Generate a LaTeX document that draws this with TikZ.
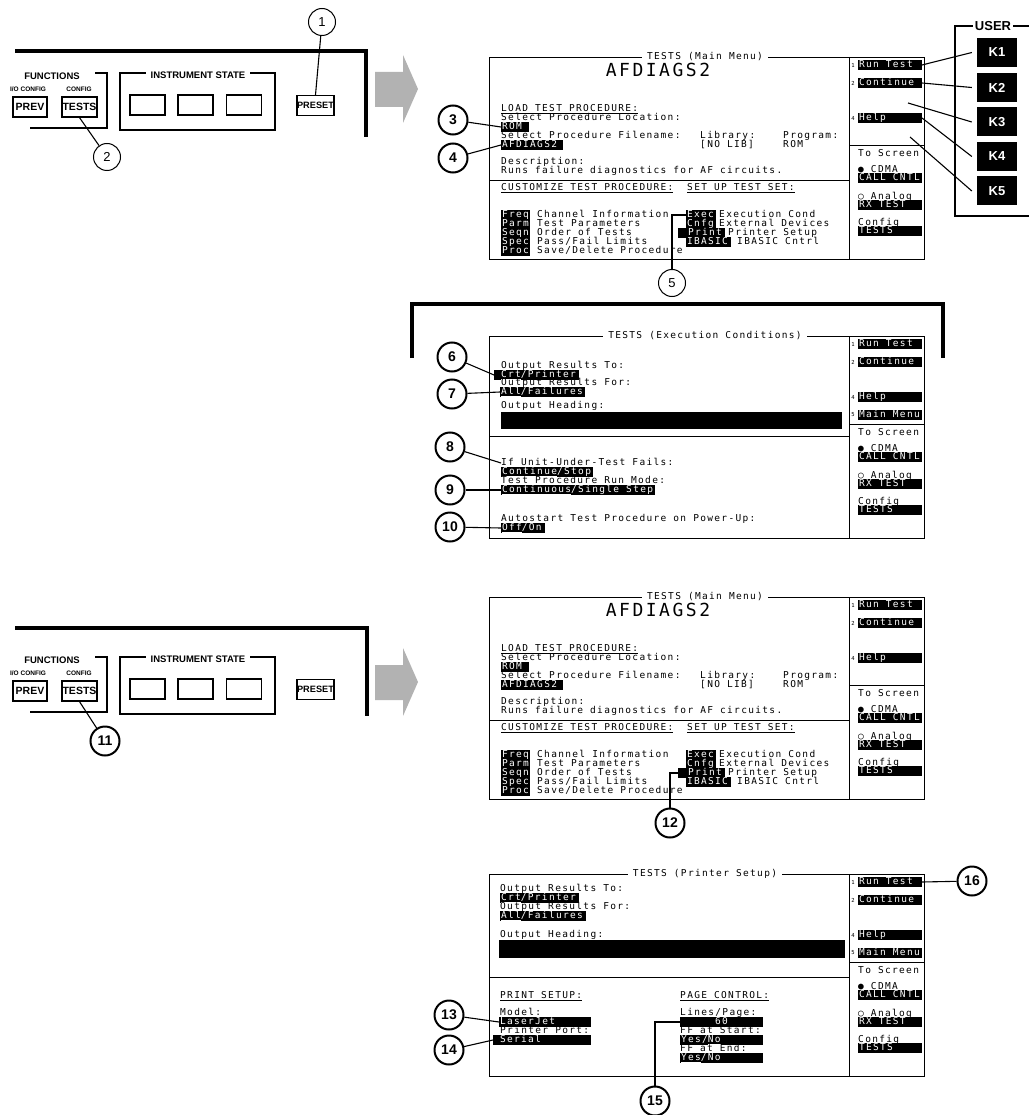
\documentclass[tikz,border=0pt]{standalone}
\usepackage{fontspec}
\setmainfont{Liberation Sans}
\newfontfamily\scrfont[LetterSpace=14]{DejaVu Sans Mono}

\newcommand\fcell[2]{\makebox[#1][l]{#2}}

\tikzset{
  scr/.style={font=\scrfont\fontsize{9.5}{10}\selectfont, inner sep=0pt,
    text height=7.2pt, text depth=1.6pt, anchor=west},
  inv/.style={scr, fill=black, text=white, inner xsep=0.8pt, inner ysep=0.3pt},
  big/.style={font=\scrfont\fontsize{18}{18}\selectfont, inner sep=0pt},
  keyno/.style={font=\scrfont\fontsize{5.5}{5.5}\selectfont, inner sep=0pt},
  bar/.style={fill=black, inner sep=0pt, anchor=north west},
  frame/.style={line width=0.9pt},
  ballbold/.style={circle, draw, line width=2pt, minimum size=29pt, inner sep=0pt,
    font=\bfseries\fontsize{14}{14}\selectfont},
  ballthin/.style={circle, draw, line width=1pt, minimum size=27pt, inner sep=0pt,
    font=\fontsize{13}{13}\selectfont},
  lead/.style={line width=1.1pt},
  pnl/.style={font=\bfseries\fontsize{9.5}{10}\selectfont, inner sep=0pt},
  smalllbl/.style={font=\bfseries\fontsize{6.5}{7}\selectfont, inner sep=0pt},
  btn/.style={draw, line width=1.2pt, inner sep=0pt, minimum height=20pt,
    font=\bfseries\fontsize{10.5}{10}\selectfont},
  kbox/.style={fill=black, text=white, minimum width=40pt, minimum height=29pt,
    inner sep=0pt, font=\bfseries\fontsize{13}{13}\selectfont},
  heavy/.style={line width=3.5pt},
  grayarrow/.style={fill=black!30},
}

% screen outline, title and softkey column
\newcommand\scrframe[2]{%
  \draw[frame] (0,0) rectangle (435,202);
  \draw[frame] (360,0) -- (360,202);
  \draw[frame] (360,88) -- (435,88);
  \node[scr, anchor=center, fill=white, inner xsep=5pt] (#1-title) at (216,0) {#2};
  \node[keyno] at (364,8) {1};
  \node[inv] (#1-run) at (369,8) {\fcell{62pt}{Run Test}};
  \node[keyno] at (364,26) {2};
  \node[inv] (#1-cont) at (369,26) {\fcell{62pt}{Continue}};
  \node[keyno] at (364,61) {4};
  \node[inv] (#1-help) at (369,61) {\fcell{62pt}{Help}};
  \node[scr] at (369,97) {To Screen};
  \node[scr] at (369,113) {● CDMA};
  \node[inv] at (369,121) {\fcell{62pt}{CALL CNTL}};
  \node[scr] at (369,140) {○ Analog};
  \node[inv] at (369,148) {\fcell{62pt}{RX TEST}};
  \node[scr] at (369,166) {Config};
  \node[inv] at (369,174) {\fcell{62pt}{TESTS}};
}

% TESTS (Main Menu) contents
\newcommand\mainbody[1]{%
  \draw[frame] (0,123) -- (360,123);
  \node[big] at (169,13) {AFDIAGS2};
  \node[scr] at (12,52) {\underline{LOAD TEST PROCEDURE:}};
  \node[scr] at (12,61) {Select Procedure Location:};
  \node[inv] (#1-rom) at (12,70) {\fcell{26pt}{ROM}};
  \node[scr] at (12,79) {Select Procedure Filename:};
  \node[scr] at (211,79) {Library:};
  \node[scr] at (294,79) {Program:};
  \node[inv] (#1-afd) at (12,88) {\fcell{60pt}{AFDIAGS2}};
  \node[scr] at (211,88) {[NO LIB]};
  \node[scr] at (294,88) {ROM};
  \node[scr] at (12,105) {Description:};
  \node[scr] at (12,114) {Runs failure diagnostics for AF circuits.};
  \node[scr] at (12,131) {\underline{CUSTOMIZE TEST PROCEDURE:}};
  \node[scr] at (198,131) {\underline{SET UP TEST SET:}};
  \foreach \k/\t [count=\i from 0] in {Freq/Channel Information, Parm/Test Parameters,
      Seqn/Order of Tests, Spec/{Pass/Fail Limits}, Proc/{Save/Delete Procedure}} {
    \node[inv] at (12,158+9*\i) {\fcell{27pt}{\k}};
    \node[scr] at (48,158+9*\i) {\t};
  }
  \node[inv] (#1-exec) at (197,158) {\fcell{28pt}{Exec}};
  \node[scr] at (230,158) {Execution Cond};
  \node[inv] at (197,167) {\fcell{28pt}{Cnfg}};
  \node[scr] at (230,167) {External Devices};
  \node[inv] (#1-print) at (189,176) {\fcell{45pt}{\hspace*{9pt}Print}};
  \node[scr] at (239,176) {Printer Setup};
  \node[inv] at (197,185) {\fcell{43pt}{IBASIC}};
  \node[scr] at (248,185) {IBASIC Cntrl};
}

% front panel keys
\newcommand\keypanel[1]{%
  \node[pnl] at (52,76) {FUNCTIONS};
  \draw[line width=1.2pt] (95,73) -- (107,73) -- (107,128) -- (30,128);
  \node[smalllbl] at (28,89) {I/O CONFIG};
  \node[smalllbl] at (79,89) {CONFIG};
  \node[btn, minimum width=34pt] (#1-prev) at (30,107) {PREV};
  \node[btn, minimum width=35pt] (#1-tests) at (79.5,107) {TESTS};
  \draw[line width=1.2pt] (120,73) rectangle (275,130);
  \node[pnl, fill=white, inner xsep=5pt] at (198,75) {INSTRUMENT STATE};
  \foreach \bx in {147.5,195.5,244}
    \node[btn, minimum width=35pt] at (\bx,105) {};
  \node[btn, minimum width=37pt, font=\bfseries\fontsize{9.2}{9}\selectfont] (#1-preset) at (315.5,105.5) {PRESET};
}

\begin{document}
\begin{tikzpicture}[x=1pt,y=-1pt]
\useasboundingbox (0,0) rectangle (1029,1115);

%% first row: PRESET, TESTS -> main menu
\draw[heavy] (15,51) -- (366,51) -- (366,137);
\keypanel{P1}
\node[ballthin] (c1) at (322,22) {1};
\draw[lead] (c1) -- (P1-preset.north);
\node[ballthin] (c2) at (107,157) {2};
\draw[lead] (P1-tests.south) -- (c2);
\fill[grayarrow] (375,72) -- (403,72) -- (403,55) -- (418,89) -- (403,123) -- (403,107) -- (375,107) -- cycle;

\begin{scope}[shift={(489,57)}]
  \scrframe{A}{TESTS (Main Menu)}
  \mainbody{A}
  \coordinate (A-k3) at (419,46);
  \coordinate (A-k5) at (421,80);
\end{scope}
\node[ballbold] (c3) at (453,120) {3};
\draw[lead] (c3) -- (A-rom.west);
\node[ballbold] (c4) at (453,158) {4};
\draw[lead] (c4) -- (A-afd.west);
\node[ballthin] (c5) at (672,283) {5};
\draw[lead] (c5.north) |- (A-exec.west);

% USER keys
\node[pnl, font=\bfseries\fontsize{13}{13}\selectfont, inner xsep=2pt] (user) at (993,26) {USER};
\draw[line width=1.6pt] (user.east) -- (1029,26);
\draw[line width=1.6pt] (user.west) -- (955,26) -- (955,216) -- (1029,216);
\foreach \n/\yy in {1/52.5,2/87.5,3/122,4/156.5,5/191}
  \node[kbox] (K\n) at (997,\yy) {K\n};
\draw[lead] (A-run.east) -- ([xshift=-5pt]K1.west);
\draw[lead] (A-cont.east) -- ([xshift=-5pt]K2.west);
\draw[lead] (A-k3) -- ([xshift=-5pt]K3.west);
\draw[lead] (A-help.east) -- ([xshift=-5pt]K4.west);
\draw[lead] (A-k5) -- ([xshift=-5pt]K5.west);

%% execution conditions
\draw[heavy] (412,358) -- (412,304) -- (943,304) -- (943,358);
\begin{scope}[shift={(489,336)}]
  \scrframe{B}{TESTS (Execution Conditions)}
  \node[keyno] at (364,79) {5};
  \node[inv] (B-menu) at (369,79) {\fcell{62pt}{Main Menu}};
  \draw[frame] (0,100) -- (360,100);
  \node[scr] at (12,30) {Output Results To:};
  \node[inv] (B-crt) at (5,39) {\fcell{83pt}{\hspace*{6pt}\underline{Crt}/Printer}};
  \node[scr] at (12,47) {Output Results For:};
  \node[inv] (B-all) at (11,56) {\fcell{83pt}{\underline{All}/Failures}};
  \node[scr] at (12,70) {Output Heading:};
  \node[bar, minimum width=341pt, minimum height=17pt] at (12,76) {};
  \node[scr] (B-fail) at (12,127) {If Unit-Under-Test Fails:};
  \node[inv] at (12,136) {\fcell{90pt}{\underline{Continue}/Stop}};
  \node[scr] at (12,145) {Test Procedure Run Mode:};
  \node[inv] (B-cs) at (12,154) {\fcell{152pt}{\underline{Continuous}/Single Step}};
  \node[scr] at (12,183) {Autostart Test Procedure on Power-Up:};
  \node[inv] (B-off) at (12,192) {\fcell{42pt}{\underline{Off}/On}};
\end{scope}
\node[ballbold] (c6) at (452,357) {6};
\draw[lead] (c6) -- (B-crt.west);
\node[ballbold] (c7) at (452,394) {7};
\draw[lead] (c7) -- (B-all.west);
\node[ballbold] (c8) at (450,447) {8};
\draw[lead] (c8) -- (B-fail.west);
\node[ballbold] (c9) at (450,490) {9};
\draw[lead] (c9) -- (B-cs.west);
\node[ballbold] (c10) at (450,527) {10};
\draw[lead] (c10) -- (B-off.west);

%% second row: TESTS -> main menu -> printer setup
\draw[heavy] (15,628) -- (367,628) -- (367,716);
\begin{scope}[shift={(0,584)}]
  \keypanel{P3}
\end{scope}
\node[ballbold] (c11) at (105,741) {11};
\draw[lead] (P3-tests.south) -- (c11);
\begin{scope}[shift={(0,593)}]
  \fill[grayarrow] (375,72) -- (403,72) -- (403,55) -- (418,89) -- (403,123) -- (403,107) -- (375,107) -- cycle;
\end{scope}

\begin{scope}[shift={(489,597)}]
  \scrframe{C}{TESTS (Main Menu)}
  \mainbody{C}
\end{scope}
\node[ballbold] (c12) at (670,823) {12};
\draw[lead] (c12.north) |- (C-print.west);

\begin{scope}[shift={(489,874)}]
  \scrframe{D}{TESTS (Printer Setup)}
  \node[keyno] at (364,79) {5};
  \node[inv] (D-menu) at (369,79) {\fcell{62pt}{Main Menu}};
  \draw[frame] (0,103) -- (360,103);
  \node[scr] at (11,15) {Output Results To:};
  \node[inv] at (11,24) {\fcell{77pt}{\underline{Crt}/Printer}};
  \node[scr] at (11,33) {Output Results For:};
  \node[inv] at (11,42) {\fcell{84pt}{\underline{All}/Failures}};
  \node[scr] at (11,61) {Output Heading:};
  \node[bar, minimum width=346pt, minimum height=18pt] at (10,66) {};
  \node[scr] at (11,122) {\underline{PRINT SETUP:}};
  \node[scr] at (191,122) {\underline{PAGE CONTROL:}};
  \node[scr] at (11,139) {Model:};
  \node[inv] (D-laser) at (10,148) {\fcell{90pt}{LaserJet}};
  \node[scr] at (11,157) {Printer Port:};
  \node[inv] (D-serial) at (4,166) {\fcell{96pt}{\hspace*{6pt}Serial}};
  \node[scr] at (191,139) {Lines/Page:};
  \node[inv] (D-sixty) at (191,148) {\makebox[81pt]{60}};
  \node[scr] at (191,157) {FF at Start:};
  \node[inv] at (191,166) {\fcell{81pt}{Yes/\underline{No}}};
  \node[scr] at (191,175) {FF at End:};
  \node[inv] at (191,184) {\fcell{81pt}{\underline{Yes}/No}};
\end{scope}
\node[ballbold] (c13) at (449,1015) {13};
\draw[lead] (c13) -- (D-laser.west);
\node[ballbold] (c14) at (449,1050) {14};
\draw[lead] (c14) -- (D-serial.west);
\node[ballbold] (c15) at (655,1101) {15};
\draw[lead] (c15.north) |- (D-sixty.west);
\node[ballbold] (c16) at (972,881) {16};
\draw[lead] (D-run.east) -- (c16);
\end{tikzpicture}
\end{document}
